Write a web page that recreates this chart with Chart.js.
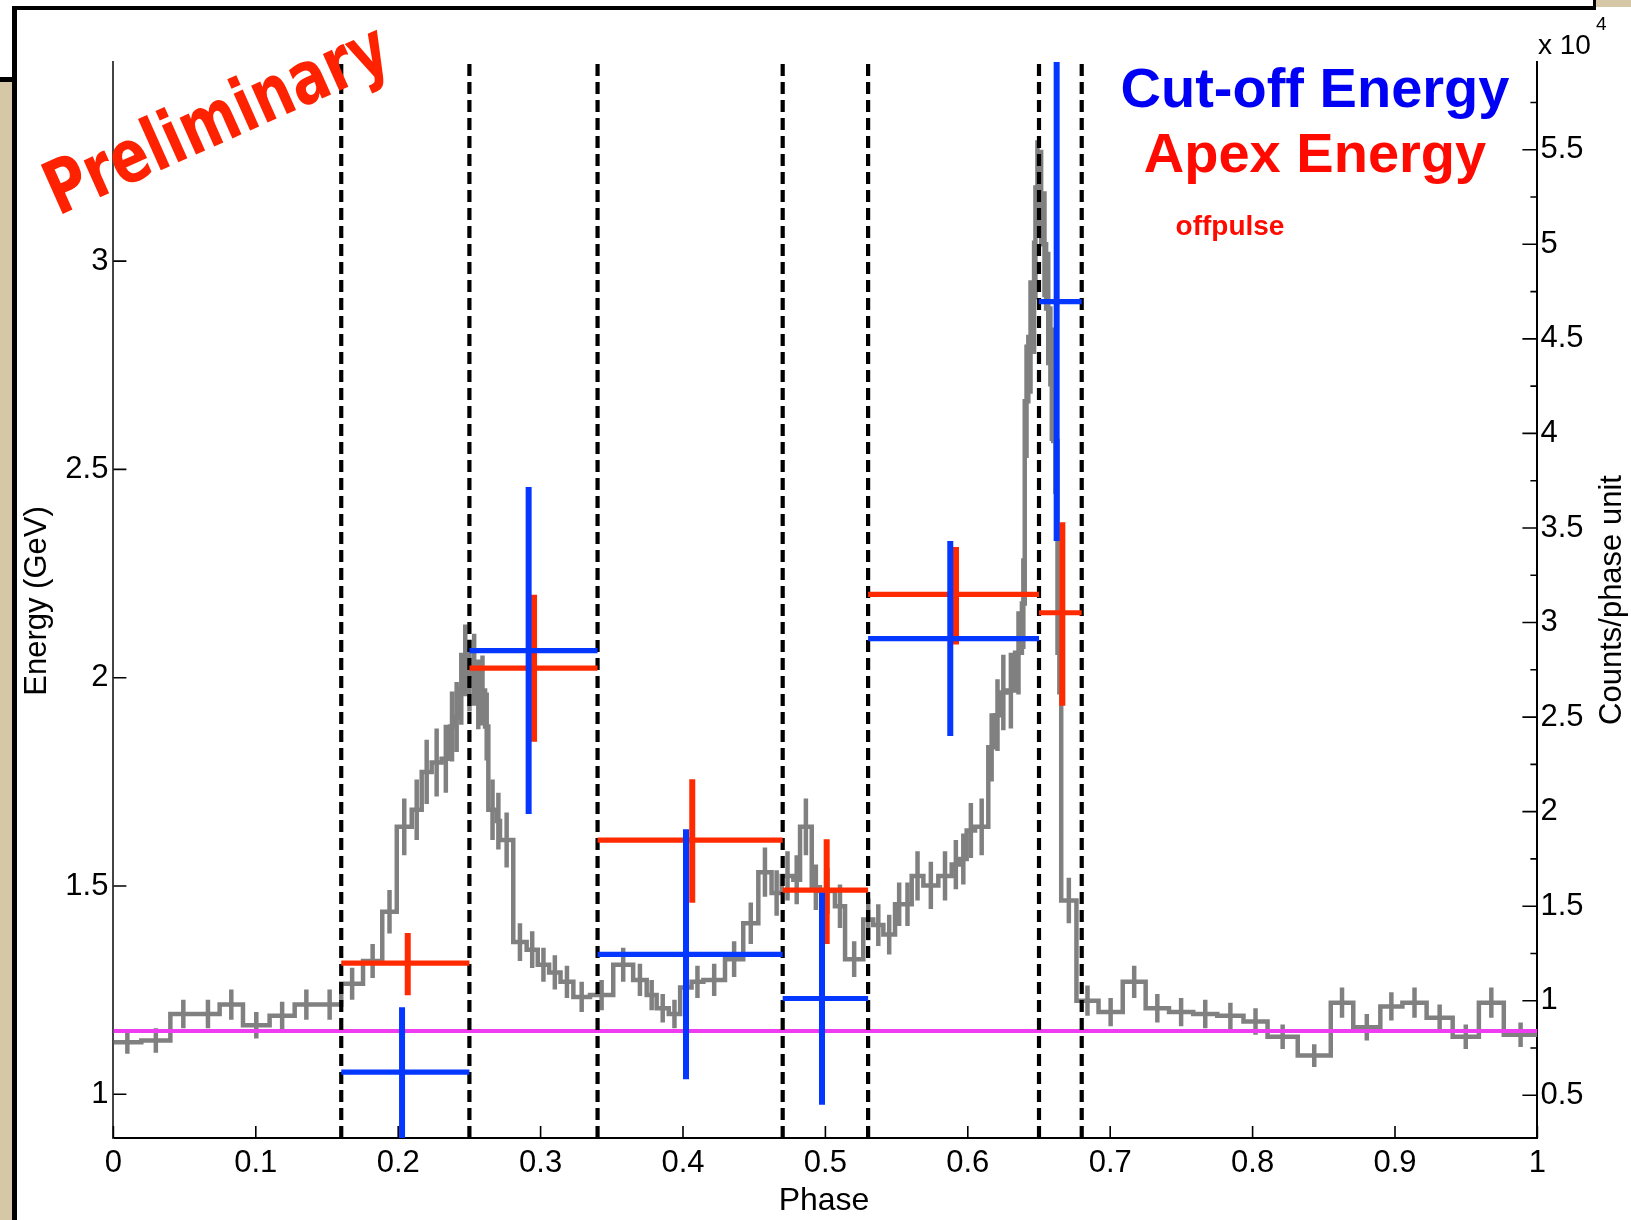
<!DOCTYPE html>
<html>
<head>
<meta charset="utf-8">
<title>Phase-resolved cut-off and apex energies</title>
<script src="https://cdn.jsdelivr.net/npm/chart.js@4.4.1/dist/chart.umd.min.js"></script>
<style>
  html, body { margin: 0; padding: 0; background: #fff; }
  canvas { display: block; }
</style>
</head>
<body>
<canvas id="phaseChart" width="1631" height="1220"></canvas>
<script>
// light curve, variable-width phase bins (counts/phase unit, x 10^4)
const binEdges = [
  0.0000, 0.0196, 0.0400, 0.0582, 0.0746, 0.0910, 0.1097, 0.1273, 0.1437, 0.1600,
  0.1753, 0.1888, 0.1990, 0.2095, 0.2165, 0.2235, 0.2305, 0.2364, 0.2392, 0.2429,
  0.2457, 0.2485, 0.2516, 0.2551, 0.2574, 0.2610, 0.2633, 0.2692, 0.2715, 0.2808,
  0.2902, 0.2980, 0.3060, 0.3140, 0.3230, 0.3347, 0.3510, 0.3650, 0.3745, 0.3815,
  0.3900, 0.3980, 0.4060, 0.4143, 0.4295, 0.4423, 0.4529, 0.4622, 0.4693, 0.4775,
  0.4822, 0.4904, 0.4962, 0.5067, 0.5138, 0.5266, 0.5336, 0.5407, 0.5489, 0.5547,
  0.5606, 0.5688, 0.5793, 0.5887, 0.5945, 0.5992, 0.6051, 0.6144, 0.6191, 0.6226,
  0.6273, 0.6332, 0.6380, 0.6400, 0.6425, 0.6456, 0.6475, 0.6503, 0.6527, 0.6550,
  0.6580, 0.6600, 0.6630, 0.6656, 0.6763, 0.6918, 0.7088, 0.7249, 0.7413, 0.7583,
  0.7752, 0.7936, 0.8105, 0.8317, 0.8549, 0.8707, 0.8897, 0.9052, 0.9222, 0.9405,
  0.9589, 0.9764, 1.0000
];
const binCounts = [
  0.78, 0.79, 0.93, 0.93, 0.98, 0.87, 0.92, 0.98, 0.98,
  1.09, 1.21, 1.47, 1.92, 2.01, 2.21, 2.26, 2.28, 2.45, 2.50,
  2.65, 2.80, 2.72, 2.75, 2.62, 2.64, 2.45, 2.01, 1.95, 1.85,
  1.31, 1.27, 1.19, 1.15, 1.10, 1.02, 1.03, 1.19, 1.11, 1.03,
  0.96, 0.93, 1.07, 1.10, 1.11, 1.22, 1.41, 1.68, 1.57, 1.66,
  1.64, 1.92, 1.60, 1.58, 1.50, 1.22, 1.43, 1.40, 1.35, 1.51,
  1.51, 1.66, 1.61, 1.66, 1.72, 1.75, 1.90, 1.92, 2.34, 2.51,
  2.63, 2.64, 2.84, 3.10, 4.17, 4.51, 4.72, 5.30, 5.25, 5.00,
  4.66, 4.26, 3.96, 2.84, 1.53, 1.00, 0.94, 1.10, 0.96, 0.94,
  0.93, 0.92, 0.89, 0.81, 0.71, 0.99, 0.86, 0.97, 0.99, 0.91,
  0.81, 0.99, 0.82
];
const binErrors = [
  0.060, 0.065, 0.075, 0.075, 0.080, 0.070, 0.075, 0.080, 0.080,
  0.085, 0.090, 0.115, 0.150, 0.160, 0.170, 0.180, 0.180, 0.185, 0.185,
  0.190, 0.190, 0.190, 0.190, 0.185, 0.185, 0.180, 0.160, 0.150, 0.145,
  0.100, 0.097, 0.090, 0.090, 0.085, 0.080, 0.080, 0.090, 0.085, 0.080,
  0.075, 0.075, 0.085, 0.085, 0.085, 0.095, 0.110, 0.130, 0.120, 0.130,
  0.130, 0.150, 0.120, 0.120, 0.115, 0.095, 0.110, 0.110, 0.105, 0.115,
  0.115, 0.130, 0.125, 0.130, 0.130, 0.135, 0.145, 0.150, 0.180, 0.190,
  0.200, 0.200, 0.220, 0.240, 0.300, 0.300, 0.300, 0.250, 0.250, 0.280,
  0.300, 0.300, 0.280, 0.220, 0.120, 0.080, 0.075, 0.085, 0.075, 0.075,
  0.075, 0.070, 0.070, 0.065, 0.060, 0.080, 0.070, 0.075, 0.080, 0.070,
  0.065, 0.080, 0.065
];
const offpulseLevel = 0.84;

// phase intervals of the spectral fits
const intervalEdges = [0.16, 0.25, 0.34, 0.47, 0.53, 0.65, 0.68];

// apex energy per interval (GeV)
const apexPhase  = [0.2067, 0.2954, 0.4065, 0.5009, 0.5917, 0.6664];
const apexEnergy = [1.315, 2.023, 1.610, 1.490, 2.200, 2.156];
const apexLow    = [1.238, 1.846, 1.460, 1.361, 2.080, 1.933];
const apexHigh   = [1.387, 2.199, 1.756, 1.612, 2.314, 2.373];

// cut-off energy per interval (GeV)
const cutoffPhase  = [0.2027, 0.2916, 0.4021, 0.4976, 0.5877, 0.6624];
const cutoffEnergy = [1.053, 2.065, 1.336, 1.230, 2.094, 2.903];
const cutoffLow    = [0.780, 1.673, 1.036, 0.975, 1.860, 2.328];
const cutoffHigh   = [1.209, 2.458, 1.636, 1.484, 2.328, 3.600];

// axis limits and tick labels
const energyMin = 0.8951, energyMax = 3.478;
const countMin = 0.2742, countMax = 5.964;
const phaseTicks = [0, 0.1, 0.2, 0.3, 0.4, 0.5, 0.6, 0.7, 0.8, 0.9, 1];
const energyTicks = [1, 1.5, 2, 2.5, 3];
const countTicks = [0.5, 1, 1.5, 2, 2.5, 3, 3.5, 4, 4.5, 5, 5.5];
const countMinorTicks = [0.75, 1.25, 1.75, 2.25, 2.75, 3.25, 3.75, 4.25, 4.75, 5.25, 5.75];

const sansFont = '"Liberation Sans", Arial, Helvetica, sans-serif';
const RED = '#ff2a00';
const BLUE = '#0437ff';
const GRAY = '#808080';

// --- build point lists (null y breaks the line between segments) ---
const histPoints = binCounts.map((c, i) => ({ x: binEdges[i], y: c }));
histPoints.push({ x: binEdges[binEdges.length - 1], y: binCounts[binCounts.length - 1] });

const histErrPoints = [];
binCounts.forEach((c, i) => {
  const mid = (binEdges[i] + binEdges[i + 1]) / 2;
  histErrPoints.push({ x: mid, y: c - binErrors[i] }, { x: mid, y: c + binErrors[i] }, { x: mid, y: null });
});

function horizontalBars(values) {
  const pts = [];
  values.forEach((v, i) => {
    pts.push({ x: intervalEdges[i], y: v }, { x: intervalEdges[i + 1], y: v }, { x: intervalEdges[i + 1], y: null });
  });
  return pts;
}
function verticalBars(phases, lo, hi) {
  const pts = [];
  phases.forEach((p, i) => {
    pts.push({ x: p, y: lo[i] }, { x: p, y: hi[i] }, { x: p, y: null });
  });
  return pts;
}

const dashPoints = [];
intervalEdges.forEach(p => {
  dashPoints.push({ x: p, y: energyMin }, { x: p, y: energyMax }, { x: p, y: null });
});

const segStyle = { pointRadius: 0, borderCapStyle: 'butt', spanGaps: false, fill: false };

// --- page frame behind the plot ---
const framePlugin = {
  id: 'frame',
  beforeDraw(chart) {
    const ctx = chart.ctx;
    ctx.save();
    ctx.fillStyle = '#fff';
    ctx.fillRect(0, 0, chart.width, chart.height);
    ctx.fillStyle = '#d6c7a6';
    ctx.fillRect(0, 80, 12, chart.height - 80);
    ctx.fillRect(1596, 0, chart.width - 1596, 7);
    ctx.fillStyle = '#000';
    ctx.fillRect(12, 6, 1584, 4);
    ctx.fillRect(12, 6, 5, chart.height - 6);
    ctx.fillRect(0, 77, 12, 5);
    ctx.fillRect(1593, 0, 3, 9);
    ctx.restore();
  }
};

// --- tick marks pointing into the plot area ---
const inwardTicks = {
  id: 'inwardTicks',
  afterDraw(chart) {
    const { ctx, scales: { x, yE, yC } } = chart;
    ctx.save();
    ctx.strokeStyle = '#000';
    ctx.lineWidth = 1.6;
    ctx.beginPath();
    phaseTicks.forEach(v => {
      const px = x.getPixelForValue(v);
      ctx.moveTo(px, x.top); ctx.lineTo(px, x.top - 12);
    });
    energyTicks.forEach(v => {
      const py = yE.getPixelForValue(v);
      ctx.moveTo(yE.right, py); ctx.lineTo(yE.right + 13, py);
    });
    countTicks.forEach(v => {
      const py = yC.getPixelForValue(v);
      ctx.moveTo(yC.left, py); ctx.lineTo(yC.left - 15, py);
    });
    countMinorTicks.forEach(v => {
      const py = yC.getPixelForValue(v);
      ctx.moveTo(yC.left, py); ctx.lineTo(yC.left - 7, py);
    });
    ctx.stroke();
    ctx.restore();
  }
};

// --- titles, labels and the annotation texts ---
const textPlugin = {
  id: 'texts',
  afterDraw(chart) {
    const ctx = chart.ctx;
    ctx.save();
    ctx.fillStyle = '#000';
    ctx.textAlign = 'center';
    ctx.textBaseline = 'middle';
    ctx.font = '32px ' + sansFont;
    ctx.fillText('Phase', 824, 1201);

    ctx.font = '31px ' + sansFont;
    ctx.save();
    ctx.translate(37, 601);
    ctx.rotate(-Math.PI / 2);
    ctx.fillText('Energy (GeV)', 0, 0);
    ctx.restore();

    ctx.save();
    ctx.translate(1612, 600);
    ctx.rotate(-Math.PI / 2);
    ctx.fillText('Counts/phase unit', 0, 0);
    ctx.restore();

    ctx.textAlign = 'left';
    ctx.textBaseline = 'alphabetic';
    ctx.font = '28px ' + sansFont;
    ctx.fillText('x 10', 1538, 54);
    ctx.font = '19px ' + sansFont;
    ctx.fillText('4', 1596, 30);

    ctx.textAlign = 'center';
    ctx.font = 'bold 56px ' + sansFont;
    ctx.fillStyle = '#0000f5';
    ctx.fillText('Cut-off Energy', 1315, 107);
    ctx.fillStyle = '#ff0a00';
    ctx.fillText('Apex Energy', 1315, 172);
    ctx.font = 'bold 28px ' + sansFont;
    ctx.fillText('offpulse', 1230, 235);

    // stamp
    ctx.save();
    ctx.fillStyle = '#ff2200';
    ctx.font = 'bold 74px "DejaVu Sans", sans-serif';
    const w = ctx.measureText('Preliminary').width;
    ctx.translate(58, 216);
    ctx.rotate(-24 * Math.PI / 180);
    ctx.scale(368 / w, 1);
    ctx.textAlign = 'left';
    ctx.fillText('Preliminary', 0, 0);
    ctx.restore();

    ctx.restore();
  }
};

Chart.defaults.font.family = sansFont;

new Chart(document.getElementById('phaseChart'), {
  type: 'line',
  data: {
    datasets: [
      { label: 'Cut-off error', data: verticalBars(cutoffPhase, cutoffLow, cutoffHigh), yAxisID: 'yE',
        borderColor: BLUE, borderWidth: 6, order: 0, ...segStyle },
      { label: 'Cut-off Energy', data: horizontalBars(cutoffEnergy), yAxisID: 'yE',
        borderColor: BLUE, borderWidth: 5.2, order: 1, ...segStyle },
      { label: 'Apex error', data: verticalBars(apexPhase, apexLow, apexHigh), yAxisID: 'yE',
        borderColor: RED, borderWidth: 6, order: 2, ...segStyle },
      { label: 'Apex Energy', data: horizontalBars(apexEnergy), yAxisID: 'yE',
        borderColor: RED, borderWidth: 5.2, order: 3, ...segStyle },
      { label: 'intervals', data: dashPoints, yAxisID: 'yE',
        borderColor: '#000', borderWidth: 4.2, borderDash: [12, 6], order: 4, ...segStyle },
      { label: 'offpulse', data: [{ x: 0, y: offpulseLevel }, { x: 1, y: offpulseLevel }], yAxisID: 'yC',
        borderColor: '#f03cf0', borderWidth: 4.2, order: 5, ...segStyle },
      { label: 'count errors', data: histErrPoints, yAxisID: 'yC',
        borderColor: GRAY, borderWidth: 4.5, order: 6, ...segStyle },
      { label: 'counts', data: histPoints, yAxisID: 'yC', stepped: 'before',
        borderColor: GRAY, borderWidth: 4.5, order: 7, ...segStyle, borderJoinStyle: 'miter' }
    ]
  },
  options: {
    responsive: false,
    animation: false,
    events: [],
    layout: { padding: { top: 62, left: 0, right: 0, bottom: 0 } },
    plugins: { legend: { display: false }, tooltip: { enabled: false } },
    scales: {
      x: {
        type: 'linear', position: 'bottom', min: 0, max: 1,
        afterFit(s) { s.height = 82; },
        afterBuildTicks(s) { s.ticks = phaseTicks.map(v => ({ value: v })); },
        grid: { display: false, drawTicks: false },
        border: { display: true, color: '#000', width: 2 },
        ticks: { autoSkip: false, maxRotation: 0, padding: 7, color: '#000', font: { size: 31 },
          callback: v => String(Math.round(v * 10) / 10) }
      },
      yE: {
        type: 'linear', position: 'left', min: energyMin, max: energyMax,
        afterFit(s) { s.width = 113.4; },
        afterBuildTicks(s) { s.ticks = energyTicks.map(v => ({ value: v })); },
        grid: { display: false, drawTicks: false },
        border: { display: true, color: '#444', width: 2 },
        ticks: { autoSkip: false, padding: 5, color: '#000', font: { size: 31 },
          callback: v => String(v) }
      },
      yC: {
        type: 'linear', position: 'right', min: countMin, max: countMax,
        afterFit(s) { s.width = 93.6; },
        afterBuildTicks(s) { s.ticks = countTicks.map(v => ({ value: v })); },
        grid: { display: false, drawTicks: false },
        border: { display: true, color: '#000', width: 2 },
        ticks: { autoSkip: false, padding: 3, color: '#000', font: { size: 31 },
          callback: v => String(v) }
      }
    }
  },
  plugins: [framePlugin, inwardTicks, textPlugin]
});
</script>
</body>
</html>
